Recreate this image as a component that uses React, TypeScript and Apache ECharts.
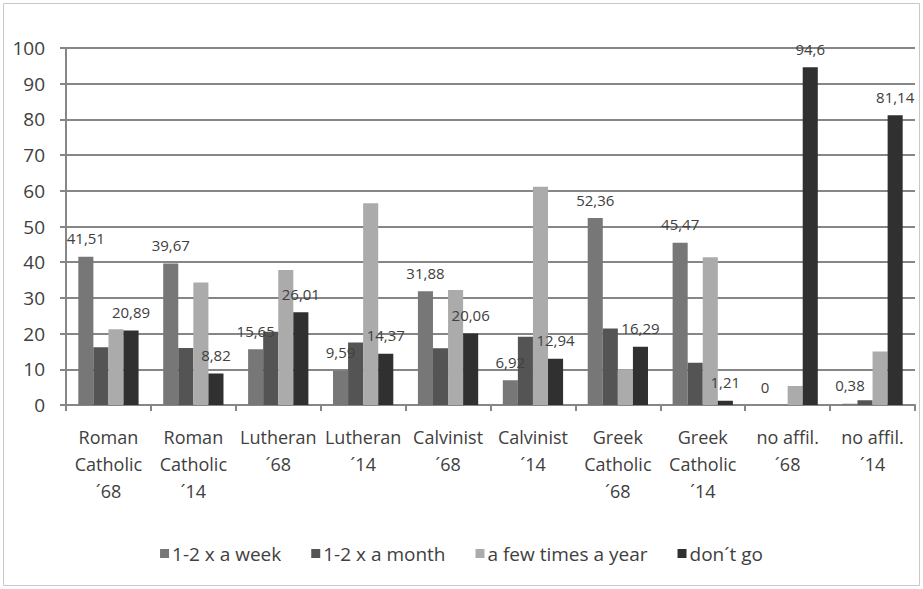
import React, { useEffect, useRef } from "react";
import * as echarts from "echarts";

const categories = [
  "Roman\nCatholic\n´68",
  "Roman\nCatholic\n´14",
  "Lutheran\n´68",
  "Lutheran\n´14",
  "Calvinist\n´68",
  "Calvinist\n´14",
  "Greek\nCatholic\n´68",
  "Greek\nCatholic\n´14",
  "no affil.\n´68",
  "no affil.\n´14",
];

const seriesNames = ["1-2 x a week", "1-2 x a month", "a few times a year", "don´t go"];

const weekly = [41.51, 39.67, 15.65, 9.59, 31.88, 6.92, 52.36, 45.47, 0, 0.38];
const monthly = [16.2, 16.0, 20.5, 17.5, 15.9, 19.1, 21.4, 11.8, 0, 1.3];
const fewTimes = [21.2, 34.3, 37.8, 56.5, 32.2, 61.1, 10.0, 41.4, 5.3, 15.0];
const dontGo = [20.89, 8.82, 26.01, 14.37, 20.06, 12.94, 16.29, 1.21, 94.6, 81.14];

const yTicks = { min: 0, max: 100, interval: 10 };

const colors = ["#777777", "#545454", "#ababab", "#303030"];

const FONT = "Open Sans";

export default function App() {
  const ref = useRef<HTMLDivElement>(null);

  useEffect(() => {
    document.body.style.margin = "0";
    if (!ref.current) return;
    const chart = echarts.init(ref.current, undefined, { renderer: "svg" });

    const fmt = (p: any) => String(p.value).replace(".", ",");
    const labelCfg = {
      show: true,
      position: "top",
      distance: 11,
      color: "#404040",
      fontSize: 15,
      fontFamily: FONT,
      formatter: fmt,
    };

    const dataSets = [weekly, monthly, fewTimes, dontGo];

    chart.setOption({
      animation: false,
      textStyle: { fontFamily: FONT },
      graphic: [
        {
          type: "rect",
          shape: { x: 3.5, y: 3.5, width: 916, height: 582 },
          style: { fill: "none", stroke: "#c8c8c8", lineWidth: 1 },
          silent: true,
        },
      ],
      grid: { left: 66, right: 8, top: 48, bottom: 184, containLabel: false },
      legend: {
        top: 539,
        left: "center",
        itemWidth: 9,
        itemHeight: 9,
        itemGap: 30,
        icon: "rect",
        textStyle: { fontSize: 19, color: "#404040", fontFamily: FONT, padding: [0, 0, 0, -2] },
        data: seriesNames,
      },
      xAxis: {
        type: "category",
        data: categories,
        axisLine: { show: true, lineStyle: { color: "#868686", width: 2 } },
        axisTick: { show: true, length: 6, lineStyle: { color: "#868686", width: 2 } },
        axisLabel: {
          interval: 0,
          fontSize: 18,
          lineHeight: 27,
          margin: 18,
          color: "#404040",
          fontFamily: FONT,
        },
      },
      yAxis: {
        type: "value",
        min: yTicks.min,
        max: yTicks.max,
        interval: yTicks.interval,
        axisLine: { show: true, lineStyle: { color: "#868686", width: 2 } },
        axisTick: { show: true, length: 6, lineStyle: { color: "#868686", width: 2 } },
        axisLabel: { fontSize: 19, color: "#404040", margin: 21, fontFamily: FONT },
        splitLine: { show: true, lineStyle: { color: "#868686", width: 2 } },
      },
      series: dataSets.map((d, i) => ({
        name: seriesNames[i],
        type: "bar",
        data: d,
        barGap: "0%",
        barCategoryGap: "29%",
        itemStyle: { color: colors[i] },
        label: i === 0 || i === 3 ? labelCfg : { show: false },
      })),
    });

    return () => chart.dispose();
  }, []);

  return <div ref={ref} style={{ width: 923, height: 589 }} />;
}
